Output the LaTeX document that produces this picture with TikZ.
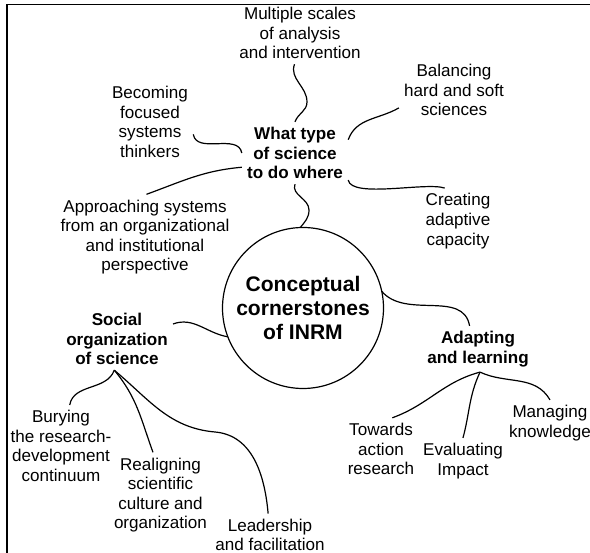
\documentclass[tikz,border=0pt]{standalone}
\usepackage{fontspec}
\setmainfont{Liberation Sans}

\begin{document}
\begin{tikzpicture}[x=0.75pt,y=0.75pt,
		idea/.style={align=center,inner sep=1pt,outer sep=3pt,font=\fontsize{12.8}{14.7}\selectfont},
		theme/.style={idea,font=\fontsize{12.8}{14.7}\selectfont\bfseries},
		link/.style={line width=0.9pt}
	]

	\useasboundingbox (0,0) rectangle (590,553);
	\draw[line width=1pt] (7,0) -- (7,548.5) -- (590,548.5);

	\node[circle,draw,link,minimum size=120.75pt,inner sep=0pt,outer sep=0pt,align=center,font=\fontsize{15.8}{18}\selectfont\bfseries] (core) at (303,245) {Conceptual\\cornerstones\\of INRM};

	\node[theme] (what) at (295,400) {What type\\of science\\to do where};
	\node[theme] (social) at (117,214) {Social\\organization\\of science};
	\node[theme] (adapt) at (478,204) {Adapting\\and learning};

	\node[idea] (multi) at (300,520) {Multiple scales\\of analysis\\and intervention};
	\node[idea] (becoming) at (150,431) {Becoming\\focused\\systems\\thinkers};
	\node[idea] (approach) at (145,316) {Approaching systems\\from an organizational\\and institutional\\perspective};
	\node[idea] (balance) at (454,463) {Balancing\\hard and soft\\sciences};
	\node[idea] (creating) at (458,332) {Creating\\adaptive\\capacity};

	\node[idea] (bury) at (61,107) {Burying\\the research-\\development\\continuum};
	\node[idea] (realign) at (160.5,58) {Realigning\\scientific\\culture and\\organization};
	\node[idea] (lead) at (270,18) {Leadership\\and facilitation};

	\node[idea] (towards) at (381,104) {Towards\\action\\research};
	\node[idea] (evaluate) at (463,92) {Evaluating\\Impact};
	\node[idea] (manage) at (550,130) {Managing\\knowledge};

	\draw[link] (multi.-100) to[out=-110,in=90] (307,451) to[out=-90,in=70] (what.north);
	\draw[link] (becoming.-16) to[out=-80,in=100] (what.west);
	\draw[link] (approach.88) to[out=20,in=185] (what.195);
	\draw[link] (balance.198) to[out=210,in=70] (what.14);
	\draw[link] (what.-27) to[out=-80,in=160,looseness=.5] (creating.112);
	\draw[link] (what.south) to[out=-110,in=90] (309,343) to[out=-90,in=50] (core.92);

	\draw[link] (core.12) to[out=-50,in=100] (adapt.110);
	\draw[link] (core.201) to[out=170,in=20] (social.15);

	\draw[link] (social.-95) to[out=-110,in=80] (bury.78);
	\draw[link] (social.-95) to[out=-50,in=110] (realign.100);
	\draw[link] (social.-95) to[out=-40,in=175] (215,121) to[out=-5,in=95] (lead.95);

	\draw[link] (adapt.-85) to[out=195,in=20] (towards.70);
	\draw[link] (adapt.-85) to[out=-115,in=75] (evaluate.north);
	\draw[link] (adapt.-85) to[out=-25,in=120] (manage.north);

\end{tikzpicture}
\end{document}
